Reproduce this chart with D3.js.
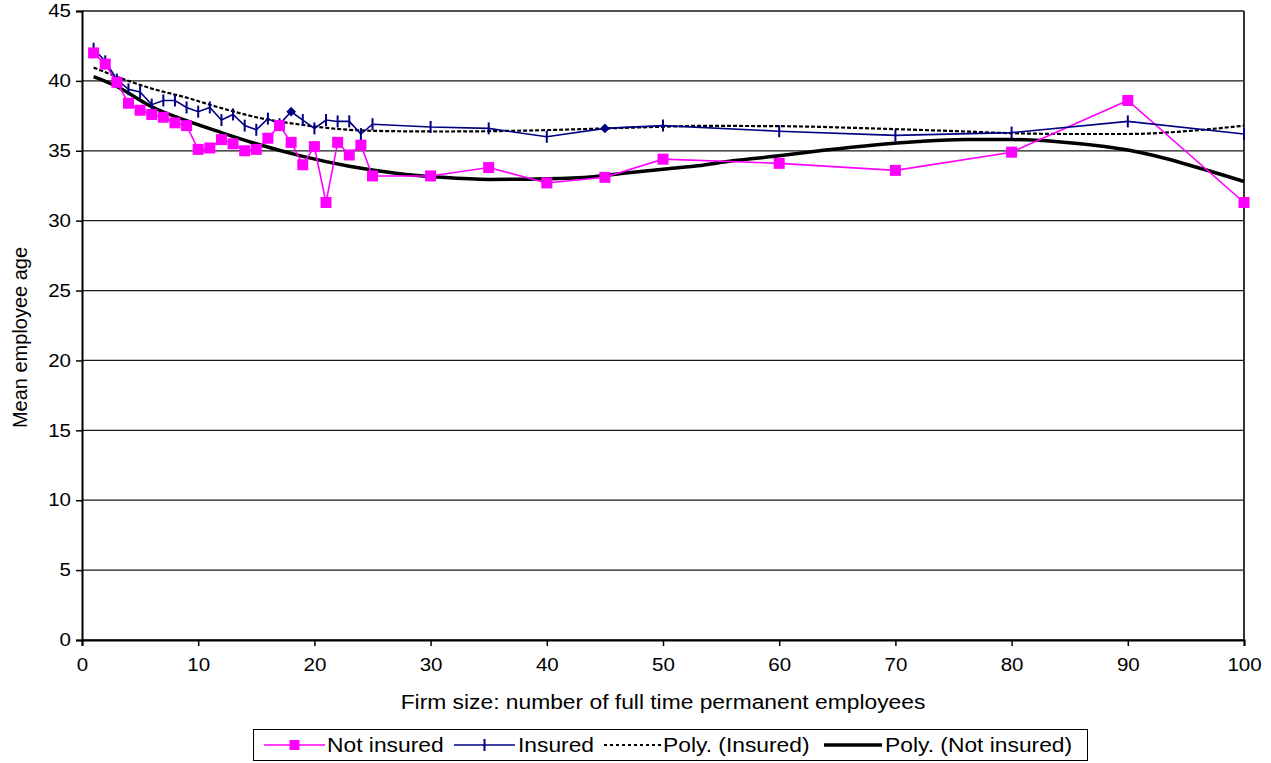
<!DOCTYPE html>
<html>
<head>
<meta charset="utf-8">
<script src="https://cdn.jsdelivr.net/npm/d3@7/dist/d3.min.js"></script>
<style>
  html, body { margin: 0; padding: 0; background: #fff; }
  svg { display: block; font-family: "Liberation Sans", Arial, sans-serif; }
</style>
</head>
<body>
<svg id="chart" width="1271" height="763"></svg>
<script>
// Firm size (number of full time permanent employees)
const firmSize = [1,2,3,4,5,6,7,8,9,10,11,12,13,14,15,16,17,18,19,20,21,22,23,24,25,30,35,40,45,50,60,70,80,90,100];

// Mean employee age by firm size
const notInsured = [42.0,41.2,39.9,38.4,37.9,37.6,37.4,37.0,36.8,35.1,35.2,35.8,35.5,35.0,35.1,35.9,36.8,35.6,34.0,35.3,31.3,35.6,34.7,35.4,33.2,33.2,33.8,32.7,33.1,34.4,34.1,33.6,34.9,38.6,31.3];
const insured    = [42.3,41.4,40.1,39.4,39.2,38.3,38.6,38.6,38.1,37.8,38.1,37.2,37.6,36.8,36.5,37.3,36.9,37.8,37.2,36.6,37.2,37.1,37.1,36.2,36.9,36.7,36.6,36.0,36.6,36.8,36.4,36.1,36.3,37.1,36.2];
// marker shape per insured point (two points carry a diamond)
const insuredMarker = firmSize.map(d => (d === 18 || d === 45) ? "diamond" : "tick");

// Polynomial trend curves, sampled along firm size
const trendInsuredX = [1,3,6,9,12,15,19,23,27,31,35,40,45,50,53,60,68,76,80,85,90,95,100];
const trendInsuredY = [40.95,40.3,39.45,38.8,38.05,37.4,36.85,36.5,36.4,36.38,36.4,36.48,36.6,36.72,36.78,36.76,36.6,36.38,36.26,36.2,36.2,36.4,36.8];
const trendNotInsuredX = [1,3,6,9,12,15,19,23,27,31,35,40,44,47,50,53,56,60,64,68,72,76,80,84,88,90,93,96,100];
const trendNotInsuredY = [40.3,39.6,38.15,37.15,36.3,35.5,34.6,33.9,33.4,33.1,32.95,33.0,33.15,33.42,33.68,33.93,34.28,34.64,35.05,35.4,35.66,35.8,35.8,35.65,35.3,35.05,34.5,33.8,32.8];

const xTicks = [0,10,20,30,40,50,60,70,80,90,100];
const yTicks = [0,5,10,15,20,25,30,35,40,45];

const xLabel = "Firm size: number of full time permanent employees";
const yLabel = "Mean employee age";
const legendLabels = ["Not insured", "Insured", "Poly. (Insured)", "Poly. (Not insured)"];

const PINK = "#ff00ff", NAVY = "#000080";
const WIDEN = 1.14; // horizontal glyph widening for upright text

const svg = d3.select("#chart");
const plot = { left: 82, right: 1244, top: 11, bottom: 640 };

const x = d3.scaleLinear().domain([0, 100]).range([plot.left, plot.right]);
const y = d3.scaleLinear().domain([0, 45]).range([plot.bottom, plot.top]);

function widen(sel) {
  sel.each(function () {
    const w = this.getComputedTextLength();
    d3.select(this).attr("textLength", w * WIDEN).attr("lengthAdjust", "spacingAndGlyphs");
  });
}

// horizontal gridlines
svg.append("g").selectAll("line").data(yTicks).join("line")
  .attr("x1", plot.left).attr("x2", plot.right)
  .attr("y1", d => y(d)).attr("y2", d => y(d))
  .attr("stroke", "#1a1a1a").attr("stroke-width", 1.3);

// right border of the plot area
svg.append("line")
  .attr("x1", plot.right).attr("x2", plot.right)
  .attr("y1", plot.top).attr("y2", plot.bottom)
  .attr("stroke", "#333").attr("stroke-width", 2);

// axes
const xAxis = svg.append("g").attr("transform", `translate(0,${plot.bottom})`)
  .call(d3.axisBottom(x).tickValues(xTicks).tickSize(6).tickPadding(12).tickFormat(d3.format("d")));
const yAxis = svg.append("g").attr("transform", `translate(${plot.left},0)`)
  .call(d3.axisLeft(y).tickValues(yTicks).tickSize(6).tickPadding(5).tickFormat(d3.format("d")));
[xAxis, yAxis].forEach(g => {
  g.select(".domain").attr("stroke", "#000").attr("stroke-width", 2);
  g.selectAll(".tick line").attr("stroke", "#000").attr("stroke-width", 1.5);
  g.selectAll(".tick text").attr("fill", "#000").attr("font-size", 18)
    .attr("font-family", "'Liberation Sans', Arial, sans-serif")
    .call(widen);
});

// axis titles
svg.append("text").attr("x", (plot.left + plot.right) / 2).attr("y", 709)
  .attr("text-anchor", "middle").attr("font-size", 20).text(xLabel).call(widen);
svg.append("text").attr("transform", `translate(27,${(plot.top + plot.bottom) / 2 + 12}) rotate(-90)`)
  .attr("text-anchor", "middle").attr("font-size", 20).text(yLabel);

// trend curves
const trendLine = d3.line().x(d => x(d[0])).y(d => y(d[1])).curve(d3.curveMonotoneX);
svg.append("path").datum(d3.zip(trendInsuredX, trendInsuredY))
  .attr("d", trendLine).attr("fill", "none").attr("stroke", "#000")
  .attr("stroke-width", 2.2).attr("stroke-dasharray", "4,2");
svg.append("path").datum(d3.zip(trendNotInsuredX, trendNotInsuredY))
  .attr("d", trendLine).attr("fill", "none").attr("stroke", "#000")
  .attr("stroke-width", 3.5);

// data series
const seriesLine = d3.line().x(d => x(d[0])).y(d => y(d[1]));
const niData = d3.zip(firmSize, notInsured);
const inData = d3.zip(firmSize, insured, insuredMarker);

svg.append("path").datum(niData).attr("d", seriesLine)
  .attr("fill", "none").attr("stroke", PINK).attr("stroke-width", 1.6);
svg.append("path").datum(inData).attr("d", seriesLine)
  .attr("fill", "none").attr("stroke", NAVY).attr("stroke-width", 1.6);

// insured markers: short vertical ticks, diamonds where flagged
const inMarks = svg.append("g");
inMarks.selectAll("line").data(inData.filter(d => d[2] === "tick")).join("line")
  .attr("x1", d => x(d[0])).attr("x2", d => x(d[0]))
  .attr("y1", d => y(d[1]) - 6).attr("y2", d => y(d[1]) + 6)
  .attr("stroke", NAVY).attr("stroke-width", 2);
inMarks.selectAll("path").data(inData.filter(d => d[2] === "diamond")).join("path")
  .attr("d", d3.symbol(d3.symbolDiamond2, 60))
  .attr("transform", d => `translate(${x(d[0])},${y(d[1])})`)
  .attr("fill", NAVY);

// not insured markers: squares
svg.append("g").selectAll("rect").data(niData).join("rect")
  .attr("x", d => x(d[0]) - 5.5).attr("y", d => y(d[1]) - 5.5)
  .attr("width", 11).attr("height", 11).attr("fill", PINK);

// legend
const lg = svg.append("g");
lg.append("rect").attr("x", 253.5).attr("y", 729.5).attr("width", 834).attr("height", 31)
  .attr("fill", "#fff").attr("stroke", "#000").attr("stroke-width", 1);
const ly = 745;
const items = [
  { x0: 264, x1: 325, tx: 327, stroke: PINK, w: 1.6, marker: "square" },
  { x0: 454, x1: 515, tx: 518, stroke: NAVY, w: 1.6, marker: "tick" },
  { x0: 604, x1: 661, tx: 663, stroke: "#000", w: 2, dash: "3,3" },
  { x0: 824, x1: 882, tx: 885, stroke: "#000", w: 3.5 }
];
items.forEach((it, i) => {
  lg.append("line").attr("x1", it.x0).attr("x2", it.x1).attr("y1", ly).attr("y2", ly)
    .attr("stroke", it.stroke).attr("stroke-width", it.w)
    .attr("stroke-dasharray", it.dash || null);
  const mx = (it.x0 + it.x1) / 2;
  if (it.marker === "square") {
    lg.append("rect").attr("x", mx - 5).attr("y", ly - 5).attr("width", 10).attr("height", 10).attr("fill", PINK);
  } else if (it.marker === "tick") {
    lg.append("line").attr("x1", mx).attr("x2", mx).attr("y1", ly - 6).attr("y2", ly + 6)
      .attr("stroke", NAVY).attr("stroke-width", 2);
  }
  lg.append("text").attr("x", it.tx).attr("y", ly + 7).attr("font-size", 20).text(legendLabels[i]).call(widen);
});
</script>
</body>
</html>
